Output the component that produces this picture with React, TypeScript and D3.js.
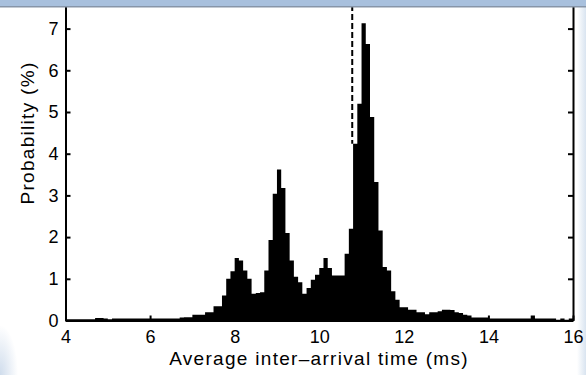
import React, { useEffect, useRef } from "react";
import * as d3 from "d3";

// histogram of average inter-arrival time, bins of 0.1 ms starting at 4 ms
const binStart = 4;
const binWidth = 0.1;
const probability = [
  0.03, 0.03, 0.03, 0.03, 0.03, 0.03, 0.03, 0.06, 0.06, 0.05,
  0.03, 0.05, 0.05, 0.05, 0.05, 0.05, 0.05, 0.05, 0.05, 0.05,
  0.05, 0.05, 0.05, 0.05, 0.05, 0.05, 0.05, 0.07, 0.08, 0.08,
  0.14, 0.14, 0.14, 0.2, 0.2, 0.34, 0.34, 0.6, 1.0, 1.18,
  1.5, 1.44, 1.2, 1.0, 0.64, 0.66, 0.68, 1.2, 1.93, 3.04,
  3.62, 3.18, 2.1, 1.44, 1.05, 0.92, 0.64, 0.78, 0.98, 1.1,
  1.26, 1.5, 1.26, 1.08, 1.08, 1.08, 1.6, 2.2, 4.24, 5.2,
  7.13, 6.63, 4.88, 3.32, 2.16, 1.28, 1.2, 0.7, 0.5, 0.32,
  0.32, 0.26, 0.26, 0.2, 0.2, 0.15, 0.2, 0.2, 0.22, 0.26,
  0.26, 0.25, 0.2, 0.18, 0.14, 0.12, 0.07, 0.07, 0.07, 0.07,
  0.05, 0.05, 0.05, 0.05, 0.05, 0.05, 0.05, 0.05, 0.05, 0.05,
  0.12, 0.05, 0.05, 0.05, 0.05, 0.05, 0.02, 0.05, 0.02, 0.05,
];
const meanArrival = 10.78;
const xTicks = [4, 6, 8, 10, 12, 14, 16];
const yTicks = [0, 1, 2, 3, 4, 5, 6, 7];
const xLabel = "Average inter\u2013arrival time (ms)";
const yLabel = "Probability (%)";

const W = 586;
const H = 375;
const font = "'Liberation Sans', Arial, sans-serif";

const App = () => {
  const ref = useRef(null);

  useEffect(() => {
    const svg = d3.select(ref.current);
    svg.selectAll("*").remove();

    const x = d3.scaleLinear().domain([4, 16]).range([65.5, 573]);
    const y = d3.scaleLinear().domain([0, 8]).range([320.5, -13.1]);

    // screenshot background bits
    const defs = svg.append("defs");
    const g1 = defs.append("linearGradient").attr("id", "rs").attr("x1", 0).attr("x2", 1);
    g1.append("stop").attr("offset", 0).attr("stop-color", "#ffffff");
    g1.append("stop").attr("offset", 1).attr("stop-color", "#d9e4f0");
    const g2 = defs.append("radialGradient").attr("id", "bl").attr("cx", 0).attr("cy", 1).attr("r", 1);
    g2.append("stop").attr("offset", 0).attr("stop-color", "#cfdcec");
    g2.append("stop").attr("offset", 1).attr("stop-color", "#ffffff");

    svg.append("rect").attr("width", W).attr("height", H).attr("fill", "#fff");
    svg.append("rect").attr("x", 577).attr("y", 0).attr("width", 9).attr("height", H).attr("fill", "url(#rs)");
    svg.append("rect").attr("x", 0).attr("y", 325).attr("width", 18).attr("height", 50).attr("fill", "url(#bl)");

    // histogram as one step area so neighbouring bins have no seams
    const steps = probability.map((v, i) => ({ t: binStart + i * binWidth, v }));
    steps.push({ t: binStart + probability.length * binWidth, v: 0 });
    const area = d3
      .area()
      .curve(d3.curveStepAfter)
      .x((d) => x(d.t))
      .y0(y(0))
      .y1((d) => y(d.v));
    svg.append("path").attr("d", area(steps)).attr("fill", "#000");

    // dashed marker, visible above the bin it sits beside
    const markerBin = probability[Math.round((meanArrival - binStart) / binWidth)];
    svg
      .append("line")
      .attr("x1", x(meanArrival))
      .attr("x2", x(meanArrival))
      .attr("y1", y(8))
      .attr("y2", y(markerBin))
      .attr("stroke", "#000")
      .attr("stroke-width", 2)
      .attr("stroke-dasharray", "6,3");

    const style = (g) => {
      g.select(".domain").attr("stroke-width", 2).attr("stroke", "#000");
      g.selectAll(".tick line").attr("stroke-width", 2).attr("stroke", "#000");
      g.selectAll("text").attr("font-family", font).attr("font-size", 18).attr("fill", "#000");
    };

    svg
      .append("g")
      .attr("transform", `translate(0,${y(0)})`)
      .call(d3.axisBottom(x).tickValues(xTicks).tickSizeInner(-5).tickSizeOuter(0).tickPadding(10))
      .call(style);

    svg
      .append("g")
      .attr("transform", `translate(${x(4)},0)`)
      .call(d3.axisLeft(y).tickValues(yTicks).tickSizeInner(-5).tickSizeOuter(0).tickPadding(7))
      .call(style);

    svg
      .append("g")
      .attr("transform", `translate(${x(16)},0)`)
      .call(d3.axisRight(y).tickValues(yTicks).tickSizeInner(-5).tickSizeOuter(0).tickFormat(() => ""))
      .call(style);

    svg
      .append("text")
      .attr("x", 319)
      .attr("y", 365)
      .attr("text-anchor", "middle")
      .attr("font-family", font)
      .attr("font-size", 19)
      .attr("letter-spacing", 1.3)
      .attr("fill", "#000")
      .text(xLabel);

    svg
      .append("text")
      .attr("transform", "translate(34,133) rotate(-90)")
      .attr("text-anchor", "middle")
      .attr("font-family", font)
      .attr("font-size", 19)
      .attr("letter-spacing", 1.3)
      .attr("fill", "#000")
      .text(yLabel);

    // window title bar strip at the top
    svg.append("rect").attr("width", W).attr("height", 7).attr("fill", "#a8c0dd");
    svg.append("rect").attr("y", 6).attr("width", W).attr("height", 1.5).attr("fill", "#8795a8");
  }, []);

  return (
    <svg
      ref={ref}
      width={W}
      height={H}
      style={{ position: "absolute", left: 0, top: 0, display: "block" }}
    />
  );
};

export default App;
